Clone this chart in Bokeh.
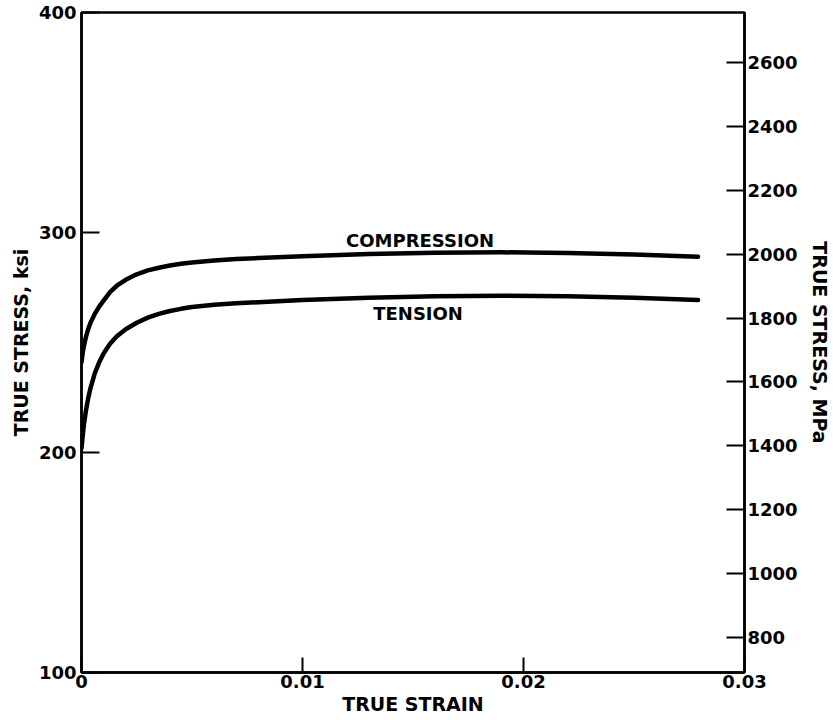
from bokeh.plotting import figure
from bokeh.models import Range1d, LinearAxis, FixedTicker
from bokeh.models import Label
from bokeh.embed import file_html
from bokeh.resources import INLINE

# True stress-strain curves (strain, stress in ksi)
strain_comp = [0.0, 0.00005, 0.0001, 0.0002, 0.0003, 0.0004, 0.0006, 0.0008,
               0.001, 0.0013, 0.0016, 0.002, 0.0025, 0.003, 0.0035, 0.004,
               0.0045, 0.005, 0.006, 0.007, 0.008, 0.010, 0.013, 0.016,
               0.019, 0.022, 0.025, 0.0279]
stress_comp = [241.0, 245.0, 248.0, 252.5, 256.0, 258.8, 263.0, 266.3,
               269.0, 273.0, 275.8, 278.5, 281.0, 282.8, 284.0, 285.0,
               285.8, 286.4, 287.3, 287.9, 288.4, 289.2, 290.2, 290.8,
               291.0, 290.7, 290.0, 289.0]

strain_tens = [0.0, 0.00005, 0.0001, 0.0002, 0.0003, 0.0004, 0.0006, 0.0008,
               0.001, 0.0013, 0.0016, 0.002, 0.0025, 0.003, 0.0035, 0.004,
               0.0045, 0.005, 0.006, 0.007, 0.008, 0.010, 0.013, 0.016,
               0.019, 0.022, 0.025, 0.0279]
stress_tens = [202.0, 207.0, 212.0, 219.0, 224.5, 229.0, 236.0, 241.0,
               245.0, 249.5, 252.8, 256.0, 259.0, 261.3, 263.0, 264.3,
               265.3, 266.1, 267.2, 267.8, 268.3, 269.3, 270.3, 271.0,
               271.3, 271.0, 270.3, 269.3]

ksi_ticks = [100, 200, 300, 400]
mpa_ticks = [800, 1000, 1200, 1400, 1600, 1800, 2000, 2200, 2400, 2600]
strain_ticks = [0, 0.01, 0.02, 0.03]
strain_tick_labels = ["0", "0.01", "0.02", "0.03"]

KSI_TO_MPA = 6.894757
FONT = "DejaVu Sans"

p = figure(width=833, height=720, output_backend="svg", toolbar_location=None,
           x_range=Range1d(0, 0.03), y_range=Range1d(100, 400),
           min_border_left=81, min_border_right=88,
           min_border_top=12, min_border_bottom=48)

p.xgrid.visible = False
p.ygrid.visible = False
p.outline_line_color = "black"
p.outline_line_width = 2.5
p.background_fill_color = "white"
p.border_fill_color = "white"


def style_axis(ax, tick_len):
    ax.axis_line_color = "black"
    ax.axis_line_width = 2.5
    ax.major_tick_in = tick_len
    ax.major_tick_out = 0
    ax.major_tick_line_width = 2
    ax.minor_tick_line_color = None
    ax.major_label_text_font = FONT
    ax.major_label_text_font_style = "bold"
    ax.major_label_text_font_size = "18px"
    ax.major_label_text_color = "black"
    ax.axis_label_text_font = FONT
    ax.axis_label_text_font_style = "bold"
    ax.axis_label_text_font_size = "19px"
    ax.axis_label_text_color = "black"


# bottom axis: strain
xa = p.xaxis[0]
xa.ticker = FixedTicker(ticks=strain_ticks)
xa.major_label_overrides = {t: s for t, s in zip(strain_ticks, strain_tick_labels)}
xa.axis_label = "TRUE STRAIN"
style_axis(xa, 15)
xa.major_label_standoff = 2
xa.axis_label_standoff = 2

# left axis: ksi
ya = p.yaxis[0]
ya.ticker = FixedTicker(ticks=ksi_ticks)
ya.axis_label = "TRUE STRESS, ksi"
style_axis(ya, 18)
ya.major_label_standoff = 5
ya.axis_label_standoff = 4

# right axis: MPa
p.extra_y_ranges = {"mpa": Range1d(100 * KSI_TO_MPA, 400 * KSI_TO_MPA)}
ra = LinearAxis(y_range_name="mpa", ticker=FixedTicker(ticks=mpa_ticks))
style_axis(ra, 18)
ra.major_label_standoff = 3
ra.axis_label = "TRUE STRESS, MPa"
ra.axis_label_orientation = "vertical"
ra.axis_label_standoff = 8
p.add_layout(ra, "right")

p.line(strain_comp, stress_comp, line_color="black", line_width=4.5,
       line_cap="round", line_join="round")
p.line(strain_tens, stress_tens, line_color="black", line_width=4.5,
       line_cap="round", line_join="round")

for txt, x, y in [("COMPRESSION", 0.01532, 296.4), ("TENSION", 0.01523, 263.2)]:
    p.add_layout(Label(x=x, y=y, text=txt, text_align="center",
                       text_baseline="middle", text_font=FONT,
                       text_font_style="bold", text_font_size="18px",
                       text_color="black"))

open("out.html", "w").write(file_html(p, INLINE))
